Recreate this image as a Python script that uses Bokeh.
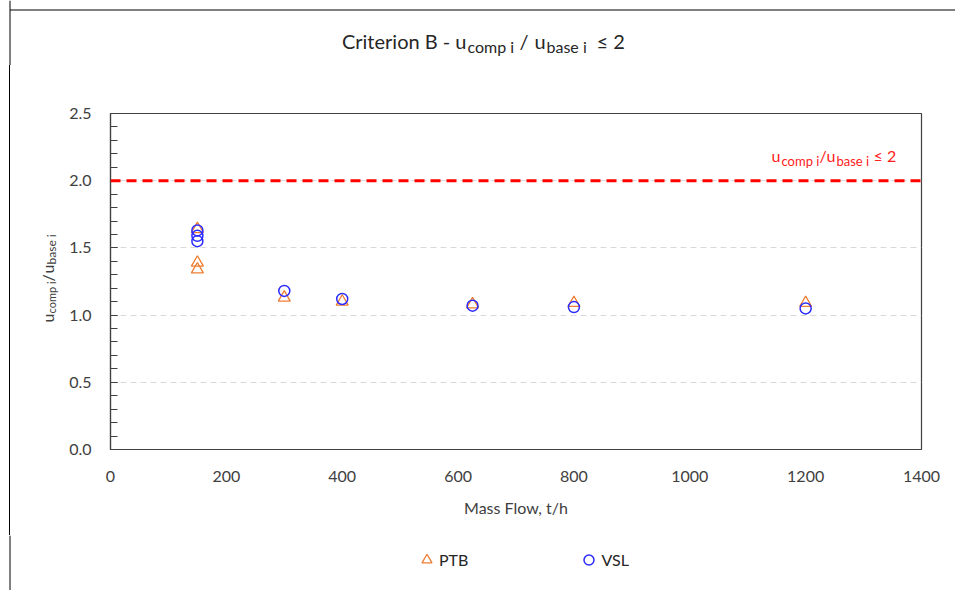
from bokeh.plotting import figure
from bokeh.layouts import column, row
from bokeh.models import (Label, Span, Legend, LegendItem, FixedTicker, Range1d,
                          NumeralTickFormatter, Spacer)
from bokeh.embed import file_html
from bokeh.resources import INLINE
import math

# ---- data ----
ptb_x = [150, 150, 150, 300, 400, 625, 800, 1200]
ptb_y = [1.64, 1.39, 1.34, 1.13, 1.10, 1.08, 1.09, 1.09]
vsl_x = [150, 150, 150, 300, 400, 625, 800, 1200]
vsl_y = [1.63, 1.59, 1.55, 1.18, 1.12, 1.07, 1.06, 1.05]
limit_value = 2.0
x_ticks = [0, 200, 400, 600, 800, 1000, 1200, 1400]
y_ticks = [0.0, 0.5, 1.0, 1.5, 2.0, 2.5]
y_minor = [round(0.1 * i, 1) for i in range(26)]
grid_lines = [0.5, 1.0, 1.5, 2.0]
series_names = ["PTB", "VSL"]

FONT = "Lato"
TXT = "#404040"
TC = "#262626"
RC = "#ff2020"
PTB_C = "#ed7d31"
VSL_C = "#2b2bff"

PW, PH = 955, 590
HEAD_H = 65          # header strip height
LEFT_W = 64          # y-label strip width (incl. spacer and border)
GAP = 9              # space left of the picture's outer border
MAIN_H = 470         # main figure height
FOOT_H = PH - HEAD_H - MAIN_H
MAIN_W = PW - LEFT_W
FL, FR, FT, FB = 111, 922, 113, 449   # plot frame in page pixels
BORDER = 9.5         # outer frame line of the picture


def strip(w, h, x0, x1, y_top, y_bottom, **borders):
    f = figure(width=w, height=h, output_backend="svg", toolbar_location=None,
               x_range=Range1d(x0, x1), y_range=Range1d(y_bottom, y_top),
               x_axis_type=None, y_axis_type=None,
               min_border_left=0, min_border_right=0,
               min_border_top=borders.get("top", 0),
               min_border_bottom=borders.get("bottom", 0))
    f.outline_line_color = None
    f.background_fill_color = "white"
    f.border_fill_color = "white"
    f.margin = 0
    return f


def tlab(fig, text, px, py, size, color, angle=0.0, align="left"):
    fig.add_layout(Label(x=px, y=py, text=text, text_font=FONT,
                         text_font_size=size, text_color=color, angle=angle,
                         text_align=align, text_baseline="alphabetic"))


# ---- header with title ----
head = strip(PW, HEAD_H, 0, PW, 0, HEAD_H)
head.add_layout(Span(location=BORDER, dimension="height", line_color="black", line_width=1))
head.segment(x0=[BORDER], y0=[BORDER], x1=[PW], y1=[BORDER], line_color="black", line_width=1)
tlab(head, "Criterion B - u", 466, 40, "20px", TC, align="right")
tlab(head, "comp i", 467, 46, "16px", TC)
tlab(head, "/", 519, 40, "20px", TC)
tlab(head, "u", 534, 40, "20px", TC)
tlab(head, "base i", 546, 46, "16px", TC)
tlab(head, "\u2264 2", 596, 40, "20px", TC)

# ---- left strip with rotated y label (frame aligned with the main frame) ----
SW = LEFT_W - GAP - 1
left = strip(SW, MAIN_H, LEFT_W - SW, LEFT_W, FT, FB,
             top=FT - HEAD_H, bottom=(HEAD_H + MAIN_H) - FB)
left.styles = {"border-left": "1px solid #000000"}
up = math.pi / 2
tlab(left, "u", 47, 322, "16px", TXT, up)
tlab(left, "comp i", 51, 313, "11px", TXT, up)
tlab(left, "/", 47, 281, "16px", TXT, up)
tlab(left, "u", 47, 273, "16px", TXT, up)
tlab(left, "base i", 51, 264, "12px", TXT, up)

# ---- main plot ----
p = figure(width=MAIN_W, height=MAIN_H, output_backend="svg", toolbar_location=None,
           x_range=Range1d(0, 1400), y_range=Range1d(0, 2.5),
           min_border_left=FL - LEFT_W, min_border_right=MAIN_W - (FR - LEFT_W),
           min_border_top=FT - HEAD_H, min_border_bottom=(HEAD_H + MAIN_H) - FB)
p.margin = 0
p.outline_line_color = "#404040"
p.outline_line_width = 1.2
p.background_fill_color = "white"
p.border_fill_color = "white"

p.xaxis.ticker = FixedTicker(ticks=x_ticks)
p.yaxis.ticker = FixedTicker(ticks=y_ticks, minor_ticks=y_minor)
p.yaxis.formatter = NumeralTickFormatter(format="0.0")
for ax in (p.xaxis[0], p.yaxis[0]):
    ax.axis_line_color = "#404040"
    ax.axis_line_width = 1.2
    ax.major_tick_line_color = "#404040"
    ax.minor_tick_line_color = "#404040"
    ax.major_tick_in = 7
    ax.major_tick_out = 0
    ax.minor_tick_in = 7
    ax.minor_tick_out = 0
    ax.major_label_text_font = FONT
    ax.major_label_text_font_size = "16px"
    ax.major_label_text_color = TXT
    ax.axis_label_text_font = FONT
    ax.axis_label_text_font_style = "normal"
    ax.axis_label_text_color = TXT
p.xaxis.minor_tick_line_color = None
p.xaxis.major_tick_in = 0
p.xaxis.major_label_standoff = 21
p.yaxis.major_label_standoff = 19
p.xaxis.axis_label = "Mass Flow, t/h"
p.xaxis.axis_label_text_font_size = "16px"
p.xaxis.axis_label_standoff = 13

p.xgrid.visible = False
p.ygrid.ticker = FixedTicker(ticks=grid_lines)
p.ygrid.grid_line_color = "#d9d9d9"
p.ygrid.grid_line_dash = "6 4"
p.ygrid.grid_line_width = 1

p.add_layout(Span(location=limit_value, dimension="width", line_color="#ff0000",
                  line_width=3, line_dash="10 6"))

p.scatter(ptb_x, ptb_y, marker="triangle", size=12, fill_color=None,
          line_color=PTB_C, line_width=1.3)
p.scatter(vsl_x, vsl_y, marker="circle", size=11, fill_color=None,
          line_color=VSL_C, line_width=1.5)


def rlab(text, px, py, size):
    p.add_layout(Label(x=px - FL, y=FB - py, x_units="screen", y_units="screen",
                       text=text, text_font=FONT, text_font_size=size,
                       text_color=RC, text_align="left",
                       text_baseline="alphabetic"))


rlab("u", 772, 155, "16px")
rlab("comp i", 782, 160, "13px")
rlab("/", 820, 155, "16px")
rlab("u", 827, 155, "16px")
rlab("base i", 837, 160, "13px")
rlab("\u2264 2", 874, 155, "16px")

# ---- footer with legend ----
foot = strip(PW, FOOT_H, 0, PW, HEAD_H + MAIN_H, PH)
foot.add_layout(Span(location=BORDER, dimension="height", line_color="black", line_width=1))
# legend-key renderers: same series, but they fall outside this strip's ranges
lg_ptb = foot.scatter(x=ptb_x, y=ptb_y, marker="triangle", size=11, fill_color=None,
                      line_color=PTB_C, line_width=1.3)
lg_vsl = foot.scatter(x=vsl_x, y=vsl_y, marker="circle", size=10, fill_color=None,
                      line_color=VSL_C, line_width=1.5)
legend = Legend(items=[LegendItem(label=series_names[0], renderers=[lg_ptb]),
                       LegendItem(label=series_names[1], renderers=[lg_vsl])],
                orientation="horizontal", location=(414, 18),
                spacing=108, glyph_width=25, glyph_height=25,
                label_text_font=FONT, label_text_font_size="16px",
                label_text_color=TC, border_line_color=None,
                background_fill_alpha=0, padding=4, label_standoff=0, margin=0)
foot.add_layout(legend, "center")

layout = column(head,
                row(Spacer(width=GAP, height=MAIN_H, margin=0), left, p, spacing=0),
                foot, spacing=0)
open("out.html", "w").write(file_html(layout, INLINE))
